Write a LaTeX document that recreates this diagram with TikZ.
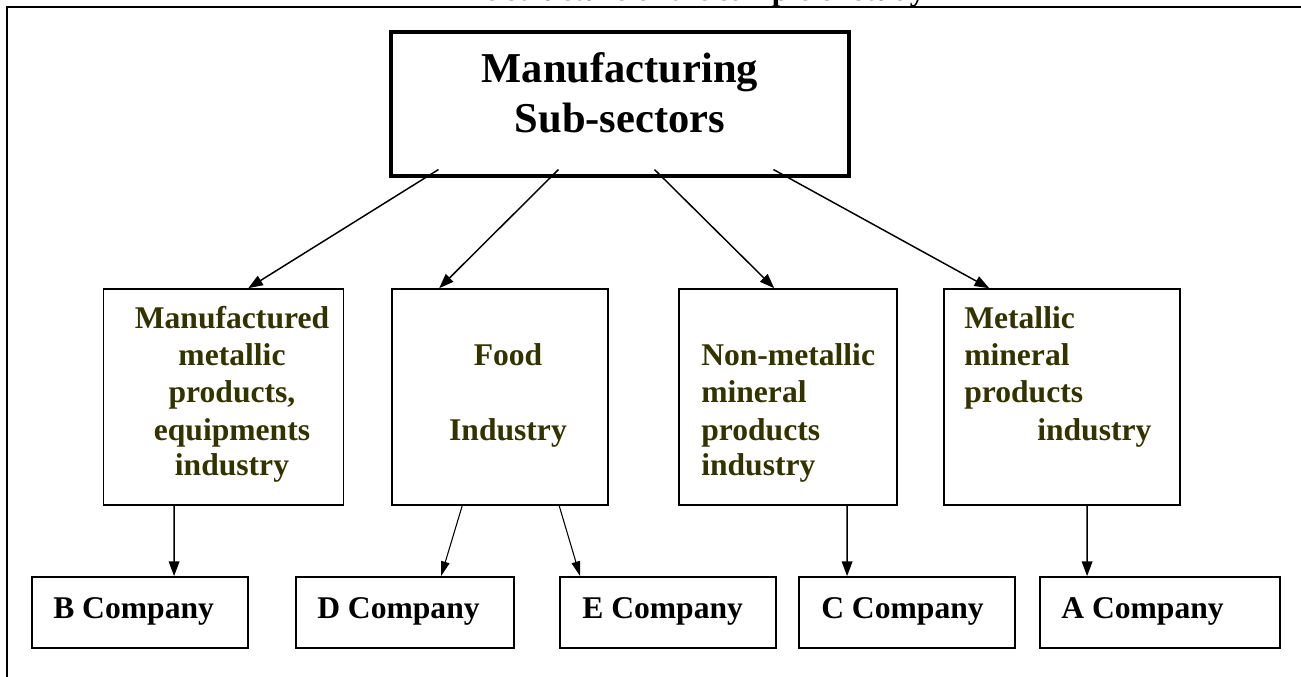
\documentclass[tikz,border=0pt]{standalone}
\usepackage{fontspec}
\setmainfont{Liberation Serif}
\usetikzlibrary{arrows.meta,fit,calc}
\definecolor{olivetext}{RGB}{51,51,0}
\begin{document}
\begin{tikzpicture}[x=0.75pt,y=-0.75pt,
  frame/.style={line width=1.5pt},
  headbox/.style={draw, line width=2.3pt, inner sep=0pt},
  sectorbox/.style={draw, line width=1.2pt, inner sep=0pt},
  companybox/.style={draw, line width=1.4pt, inner sep=0pt},
  headtext/.style={font=\fontsize{31.9pt}{37.5pt}\selectfont\bfseries, inner sep=0pt, anchor=base},
  sectortext/.style={font=\fontsize{23.7pt}{27.75pt}\selectfont\bfseries, text=olivetext, inner sep=0pt},
  companytext/.style={font=\fontsize{23.7pt}{27.75pt}\selectfont\bfseries, inner sep=0pt, anchor=base west},
  link/.style={line width=1.1pt, -{Triangle[length=11pt,width=8pt]}},
  thinlink/.style={line width=0.8pt, -{Triangle[length=11pt,width=6.5pt]}},
]
\useasboundingbox (0,0) rectangle (1301,677);

% caption line, mostly above the page edge
\begin{scope}
  \clip (0,0) rectangle (1301,6);
  \node[font=\fontsize{23.3pt}{28pt}\selectfont\bfseries, inner sep=0pt, anchor=base west]
    (caption) at (446,0.3) {The structure of the sample of study};
\end{scope}

% outer frame
\draw[frame] (1301,7) -- (7,7) -- (7,677);

% head box
\node[headbox, fit={(391,32) (849,176)}] (head) {};
\node[headtext] (headA) at (620,83) {Manufacturing};
\node[headtext] (headB) at (620,133) {Sub-sectors};

% sub-sector boxes
\node[sectorbox, fit={(103.6,289) (343.6,505)}] (s1) {};
\node[sectorbox, fit={(392,289) (608,505)}] (s2) {};
\node[sectorbox, fit={(679,289) (897,505)}] (s3) {};
\node[sectorbox, fit={(944,289) (1180,505)}] (s4) {};

\begin{scope}[every node/.style={sectortext, anchor=base}]
  \node (s1a) at (232,328) {Manufactured};
  \node (s1b) at (232,365) {metallic};
  \node (s1c) at (232,402) {products,};
  \node (s1d) at (232,440) {equipments};
  \node (s1e) at (232,475) {industry};
  \node (s2a) at (508,365) {Food};
  \node (s2b) at (508,440) {Industry};
\end{scope}
\begin{scope}[every node/.style={sectortext, anchor=base west}]
  \node (s3a) at (701,365) {Non-metallic};
  \node (s3b) at (701,402) {mineral};
  \node (s3c) at (701,440) {products};
  \node (s3d) at (701,475) {industry};
  \node (s4a) at (964,328) {Metallic};
  \node (s4b) at (964,365) {mineral};
  \node (s4c) at (964,402) {products};
  \node (s4d) at (1037,440) {industry};
\end{scope}

% company boxes
\node[companybox, fit={(32,577) (248,648)}] (cB) {};
\node[companybox, fit={(296,577) (514,648)}] (cD) {};
\node[companybox, fit={(560,577) (776,648)}] (cE) {};
\node[companybox, fit={(799,577) (1015,648)}] (cC) {};
\node[companybox, fit={(1040,577) (1280,648)}] (cA) {};

\node[companytext] (tB) at (53,618) {B Company};
\node[companytext] (tD) at (317,618) {D Company};
\node[companytext] (tE) at (582,618) {E Company};
\node[companytext] (tC) at (821,618) {C Company};
\node[companytext] (tA) at (1061,618) {A Company};

% head to sub-sectors
\draw[link] ($(head.south west)+(49,-8)$)  -- ($(s1.north west)+(145.4,0)$);
\draw[link] ($(head.south west)+(169,-8)$) -- ($(s2.north west)+(48,0)$);
\draw[link] ($(head.south west)+(265,-8)$) -- ($(s3.north west)+(96,0)$);
\draw[link] ($(head.south west)+(384,-8)$) -- ($(s4.north west)+(46,0)$);

% sub-sectors to companies
\draw[link]     ($(s1.south west)+(71.4,0)$) -- ($(cB.north west)+(143,0)$);
\draw[thinlink] ($(s2.south west)+(71,0)$)   -- ($(cD.north west)+(146,0)$);
\draw[thinlink] ($(s2.south west)+(168,0)$)  -- ($(cE.north west)+(21,0)$);
\draw[link]     ($(s3.south west)+(169,0)$)  -- ($(cC.north west)+(49,0)$);
\draw[link]     ($(s4.south west)+(144,0)$)  -- ($(cA.north west)+(48,0)$);
\end{tikzpicture}
\end{document}
